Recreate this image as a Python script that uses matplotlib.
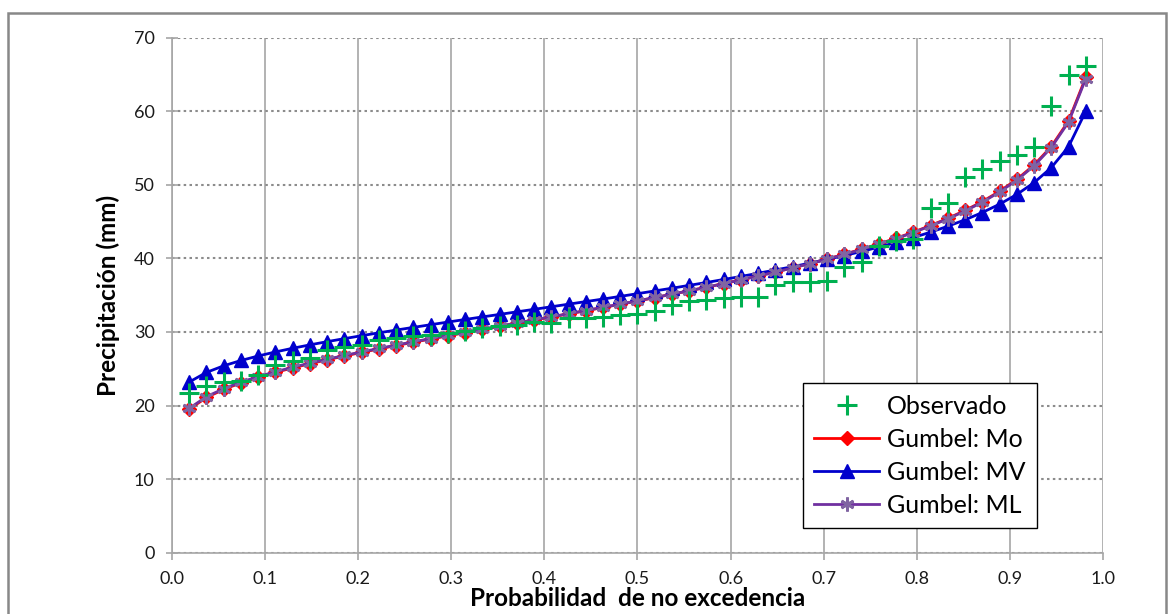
import matplotlib
matplotlib.use("Agg")
import matplotlib.pyplot as plt
from matplotlib.patches import Rectangle

plt.rcParams['font.family'] = ['Lato', 'DejaVu Sans']

# probabilidad de no excedencia (i/(n+1))
prob = [0.0185, 0.0370, 0.0556, 0.0741, 0.0926, 0.1111, 0.1296, 0.1481, 0.1667, 0.1852,
        0.2037, 0.2222, 0.2407, 0.2593, 0.2778, 0.2963, 0.3148, 0.3333, 0.3519, 0.3704,
        0.3889, 0.4074, 0.4259, 0.4444, 0.4630, 0.4815, 0.5000, 0.5185, 0.5370, 0.5556,
        0.5741, 0.5926, 0.6111, 0.6296, 0.6481, 0.6667, 0.6852, 0.7037, 0.7222, 0.7407,
        0.7593, 0.7778, 0.7963, 0.8148, 0.8333, 0.8519, 0.8704, 0.8889, 0.9074, 0.9259,
        0.9444, 0.9630, 0.9815]

observado = [21.7, 22.7, 23.2, 23.3, 24.1, 25.5, 26.0, 26.4, 27.5, 28.0,
             28.3, 28.9, 29.2, 29.5, 29.6, 29.8, 30.1, 30.5, 30.8, 31.0,
             31.3, 31.2, 31.9, 31.9, 32.1, 32.3, 32.5, 32.9, 33.7, 34.2,
             34.4, 34.6, 34.8, 34.8, 36.4, 36.8, 36.8, 36.9, 38.9, 39.5,
             41.7, 42.4, 42.6, 46.9, 47.6, 51.1, 52.1, 53.2, 54.1, 55.2,
             60.7, 64.9, 66.1]

gumbel_mo = [19.50, 21.10, 22.20, 23.09, 23.84, 24.51, 25.12, 25.69, 26.23, 26.74,
             27.23, 27.70, 28.16, 28.61, 29.05, 29.48, 29.91, 30.34, 30.76, 31.19,
             31.61, 32.04, 32.46, 32.89, 33.33, 33.77, 34.21, 34.67, 35.13, 35.60,
             36.08, 36.58, 37.09, 37.61, 38.16, 38.72, 39.31, 39.92, 40.57, 41.25,
             41.97, 42.74, 43.57, 44.47, 45.44, 46.52, 47.73, 49.12, 50.73, 52.69,
             55.19, 58.68, 64.60]

gumbel_mv = [23.20, 24.51, 25.41, 26.13, 26.74, 27.29, 27.79, 28.25, 28.69, 29.10,
             29.50, 29.89, 30.26, 30.63, 30.99, 31.35, 31.70, 32.05, 32.39, 32.74,
             33.08, 33.43, 33.78, 34.13, 34.48, 34.84, 35.21, 35.58, 35.95, 36.34,
             36.73, 37.14, 37.55, 37.98, 38.43, 38.88, 39.36, 39.87, 40.39, 40.95,
             41.54, 42.17, 42.84, 43.57, 44.37, 45.25, 46.24, 47.37, 48.69, 50.29,
             52.33, 55.18, 60.00]

gumbel_ml = [19.62, 21.21, 22.30, 23.19, 23.93, 24.60, 25.20, 25.77, 26.30, 26.81,
             27.30, 27.76, 28.22, 28.67, 29.10, 29.53, 29.96, 30.39, 30.80, 31.23,
             31.65, 32.07, 32.49, 32.92, 33.35, 33.79, 34.23, 34.69, 35.14, 35.61,
             36.09, 36.58, 37.09, 37.60, 38.15, 38.71, 39.29, 39.90, 40.54, 41.22,
             41.93, 42.70, 43.52, 44.42, 45.38, 46.45, 47.65, 49.03, 50.63, 52.58,
             55.06, 58.53, 64.41]

xticks = [0.0, 0.1, 0.2, 0.3, 0.4, 0.5, 0.6, 0.7, 0.8, 0.9, 1.0]
yticks = [0, 10, 20, 30, 40, 50, 60, 70]

fig = plt.figure(figsize=(11.71, 6.14), dpi=100)
ax = fig.add_axes([0.1469, 0.0998, 0.7950, 0.8388])

# marco exterior del grafico
fig.patches.append(Rectangle((8 / 1171, -0.05), (1166 - 8) / 1171, 1.05 - 13 / 614,
                             transform=fig.transFigure, fill=False,
                             edgecolor='#888888', linewidth=1.8, zorder=0))

l_mo, = ax.plot(prob, gumbel_mo, color='#ff0000', lw=2, marker='D', ms=7.5,
                mfc='#ff0000', mec='#ff0000', zorder=3, label='Gumbel: Mo')
l_mv, = ax.plot(prob, gumbel_mv, color='#0000cc', lw=2, marker='^', ms=10.5,
                mfc='#0000cc', mec='#0000cc', zorder=4, label='Gumbel: MV')
l_ml, = ax.plot(prob, gumbel_ml, color='#7030a0', lw=2, marker=(6, 2, 0), ms=10,
                mec='#8064a2', mew=2, zorder=5, label='Gumbel: ML')
l_ob, = ax.plot(prob, observado, ls='none', marker='+', ms=15, mew=2.2,
                color='#00b050', zorder=6, label='Observado')

ax.set_xlim(0, 1)
ax.set_ylim(0, 70)
ax.set_xticks(xticks)
ax.set_xticklabels(['%.1f' % t for t in xticks])
ax.set_yticks(yticks)

ax.xaxis.grid(True, color='#a6a6a6', lw=1.2, ls='-')
ax.yaxis.grid(True, color='#8c8c8c', lw=1.5, ls=(0, (1.2, 1.6)))
ax.set_axisbelow(True)

for s in ['top', 'right']:
    ax.spines[s].set_visible(False)
for s in ['left', 'bottom']:
    ax.spines[s].set_color('#a6a6a6')
    ax.spines[s].set_linewidth(1.2)
ax.tick_params(axis='both', colors='#a6a6a6', labelcolor='#1a1a1a',
               labelsize=13, length=5, width=1.2)
ax.tick_params(axis='y', direction='inout', length=9, pad=8)
ax.tick_params(axis='x', direction='out', pad=8)

ax.set_xlabel('Probabilidad  de no excedencia', fontsize=17.5, fontweight='bold',
              labelpad=0)
ax.set_ylabel('Precipitación (mm)', fontsize=17.5, fontweight='bold', labelpad=10)

leg = ax.legend(handles=[l_ob, l_mo, l_mv, l_ml], loc='upper left',
                bbox_to_anchor=(0.678, 0.329), fontsize=18, frameon=True,
                fancybox=False, edgecolor='black', framealpha=1,
                handlelength=2.6, handletextpad=0.3, labelspacing=0.4,
                borderpad=0.45, borderaxespad=0)
leg.get_frame().set_linewidth(1.0)

fig.savefig('out.png', dpi=100)
